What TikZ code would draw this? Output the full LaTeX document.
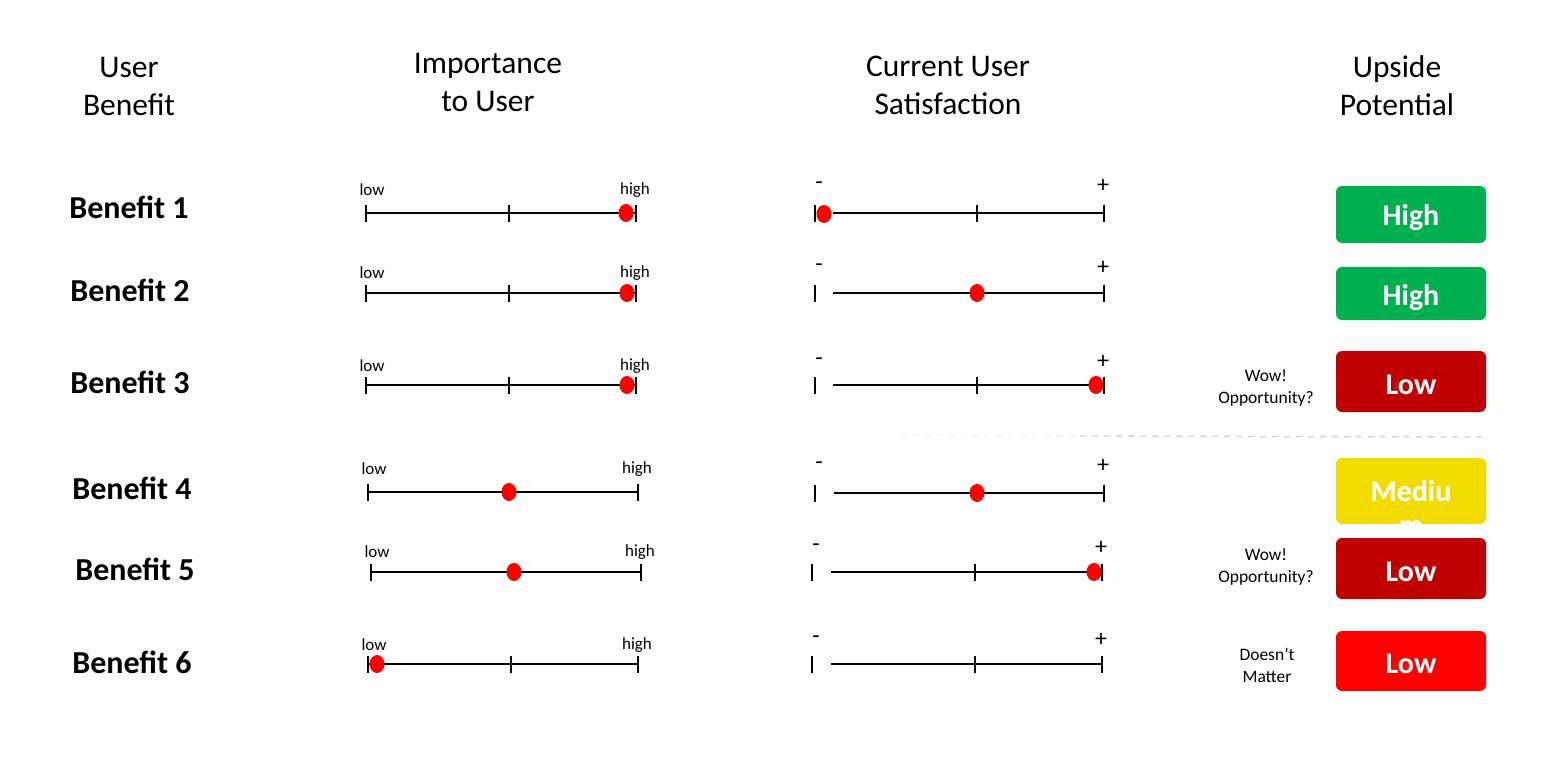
\documentclass[tikz,border=0pt]{standalone}
\usepackage{fontspec}
\setmainfont{Carlito}
\usetikzlibrary{shapes.geometric}
\definecolor{upgreen}{HTML}{00B050}
\definecolor{updark}{HTML}{C00000}
\definecolor{upred}{HTML}{FF0000}
\definecolor{upyellow}{HTML}{F2DC00}
\tikzset{
  head/.style={font=\fontsize{31.5}{38}\selectfont, align=center},
  benefit/.style={font=\fontsize{32}{36}\selectfont\bfseries},
  small/.style={font=\fontsize{17}{22}\selectfont, align=center, inner sep=0pt},
  note/.style={font=\fontsize{17.5}{22}\selectfont, align=center, inner sep=0pt},
  sign/.style={font=\fontsize{24}{26}\selectfont, inner sep=0pt},
  scaleline/.style={line width=1.3pt, black},
  tickmark/.style={line width=1.5pt, black},
  dot/.style={ellipse, fill=red, draw=none, minimum width=15pt, minimum height=18pt, inner sep=0pt},
  upbox/.style={rounded corners=6pt, draw=none, minimum width=150pt},
  uptext/.style={text=white, font=\fontsize{30}{36}\selectfont\bfseries, inner sep=0pt},
}
\newcommand\mytick[1]{\draw[tickmark] ([yshift=8.5pt]#1) -- ([yshift=-8.5pt]#1);}
% importance scale: #1 name, #2 y, #3 x0, #4 xm, #5 x1, #6 dot x, #7 label y
\newcommand\impscale[7]{%
  \coordinate (#1a) at (#3,#2);
  \coordinate (#1m) at (#4,#2);
  \coordinate (#1b) at (#5,#2);
  \draw[scaleline] (#1a) -- (#1b);
  \mytick{#1a}\mytick{#1m}\mytick{#1b}
  \node[small] (#1lo) at (#3+6,#7) {low};
  \node[small] (#1hi) at (#5-1,#7) {high};
  \node[dot] (#1d) at (#6,#2) {};
}
% satisfaction scale: #1 name, #2 y, #3 x0 tick, #4 line start, #5 xm, #6 x1, #7 label y
\newcommand\satscale[7]{%
  \coordinate (#1t) at (#3,#2);
  \coordinate (#1a) at (#4,#2);
  \coordinate (#1m) at (#5,#2);
  \coordinate (#1b) at (#6,#2);
  \draw[scaleline] (#1a) -- (#1b);
  \mytick{#1t}\mytick{#1m}\mytick{#1b}
  \node[sign] (#1mi) at (#3+4,#7) {-};
  \node[sign] (#1pl) at (#6-1,#7) {+};
}
\begin{document}
\begin{tikzpicture}[x=1pt,y=-1pt]
\useasboundingbox[fill=white] (0,0) rectangle (1567,766);

% headers
\node[head] (h1) at (129,87) {User\\Benefit};
\node[head] (h2) at (488,83) {Importance\\to User};
\node[head] (h3) at (948,85) {Current User\\Satisfaction};
\node[head] (h4) at (1397,86) {Upside\\Potential};

% benefit labels
\node[benefit] (b1) at (129,207) {Benefit 1};
\node[benefit] (b2) at (130,290) {Benefit 2};
\node[benefit] (b3) at (130,382) {Benefit 3};
\node[benefit] (b4) at (132,488) {Benefit 4};
\node[benefit] (b5) at (135,569) {Benefit 5};
\node[benefit] (b6) at (132,662) {Benefit 6};

% importance scales
\impscale{i1}{213}{366}{509}{636}{626}{190}
\impscale{i2}{293}{366}{509}{636}{627}{273}
\impscale{i3}{385}{366}{509}{636}{627}{366}
\impscale{i4}{492}{368}{509}{638}{509}{469}
\impscale{i5}{572}{371}{514}{641}{514}{552}
\impscale{i6}{664}{368}{511}{638}{377}{645}

% satisfaction scales
\satscale{s1}{213}{815}{833}{977}{1104}{186}
\node[dot] (s1d) at (824,214) {};
\satscale{s2}{293}{815}{833}{977}{1104}{268}
\node[dot] (s2d) at (977,293) {};
\satscale{s3}{385}{815}{833}{977}{1104}{362}
\node[dot] (s3d) at (1096,385) {};
\satscale{s4}{493}{815}{834}{977}{1104}{466}
\node[dot] (s4d) at (977,493) {};
\satscale{s5}{572}{812}{831}{975}{1102}{548}
\node[dot] (s5d) at (1094,572) {};
\satscale{s6}{664}{812}{831}{975}{1102}{640}

% separator
\coordinate (sepa) at (900,435);
\coordinate (sepm) at (1080,436);
\coordinate (sepb) at (1482,437);
\draw[black!5, line width=1.3pt, dash pattern=on 6pt off 6pt] (sepa) -- (sepm);
\draw[black!18, line width=1.3pt, dash pattern=on 6pt off 6pt] (sepm) -- (sepb);

% upside boxes
\node[upbox, fill=upgreen, minimum height=57pt] (u1) at (1411,214.5) {};
\node[uptext] (u1t) at (1411,218) {High};
\node[upbox, fill=upgreen, minimum height=53pt] (u2) at (1411,293.5) {};
\node[uptext] (u2t) at (1411,298) {High};
\node[upbox, fill=updark, minimum height=61pt] (u3) at (1411,381.5) {};
\node[uptext] (u3t) at (1411,384.5) {Low};
\node[upbox, fill=upyellow, minimum height=66pt] (u4) at (1411,491) {};
\node[uptext, anchor=base] (u4t) at (1411,501) {Mediu};
\node[uptext, anchor=base] (u4m) at (1411,535) {m};
\node[upbox, fill=updark, minimum height=61pt] (u5) at (1411,568.5) {};
\node[uptext] (u5t) at (1411,571.5) {Low};
\node[upbox, fill=upred, minimum height=60pt] (u6) at (1411,661) {};
\node[uptext] (u6t) at (1411,664) {Low};

% side notes
\node[note] (n3) at (1266,388) {Wow!\\Opportunity?};
\node[note] (n5) at (1266,567) {Wow!\\Opportunity?};
\node[note] (n6) at (1267,665) {Doesn’t\\Matter};
\end{tikzpicture}
\end{document}
